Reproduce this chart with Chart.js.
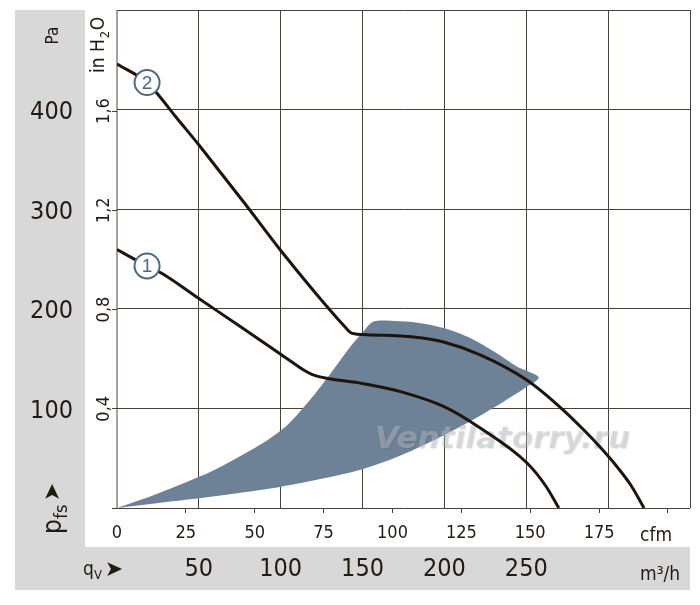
<!DOCTYPE html>
<html>
<head>
<meta charset="utf-8">
<script src="https://cdn.jsdelivr.net/npm/chart.js@4.4.1/dist/chart.umd.min.js"></script>
<style>
html,body{margin:0;padding:0;background:#ffffff;}
canvas{display:block;}
</style>
</head>
<body>
<canvas id="c" width="700" height="605"></canvas>
<script>
// ---------- data ----------
const curve1Flow = [0, 18.36, 27.54, 49.57, 75.28, 99.76, 110.77, 115.06, 119.34, 127.3, 149.9, 173.2, 199.8, 222.1, 250.6, 261.9, 269.9];
const curve1Pa   = [259.5, 243.0, 235.4, 210.8, 182.2, 154.6, 142.1, 137.6, 134.0, 130.5, 125.0, 116.8, 101.7, 80.0, 44.9, 22.1, 0];

const curve2Flow = [0, 18.36, 26.3, 35.5, 49.57, 63.0, 78.3, 99.76, 121.2, 139.6, 142.6, 145.7, 149.9, 181.2, 199.5, 222.2, 250.3, 269.9, 285.2, 295.6, 304.8, 314.0, 321.9];
const curve2Pa   = [445.8, 427.2, 412.7, 393.6, 365.5, 337.3, 305.2, 259.0, 215.9, 181.2, 176.2, 174.7, 174.2, 171.7, 166.7, 153.6, 128.5, 102.4, 78.3, 60.2, 42.7, 22.6, 0];

const shadeFlow = [0, 20.2, 44.7, 56.9, 71.0, 81.4, 90.6, 98.5, 104.7, 110.2, 115.7, 121.8, 129.1, 136.5, 142.6, 150.5, 156.7,
                   169.5, 183.6, 200.1, 216, 230.7, 244.8, 257.6,
                   249.9, 224.4, 199.9, 173.2, 149.9, 124.2, 100.2, 72.2, 44.7, 20.2, 0];
const shadePa   = [0, 11.5, 27.6, 36.1, 48.2, 57.7, 66.8, 75.8, 84.3, 93.9, 104.4, 116.5, 132.0, 148.6, 162.1, 177.2, 187.2,
                   187.8, 186.0, 180.4, 170.4, 156.6, 141.6, 131.2,
                   121.2, 95.1, 73.3, 52.7, 39.0, 29.1, 21.4, 14.6, 8.7, 4.0, 0];

const curveNames = ['1', '2'];

const m3hTicks  = [0, 50, 100, 150, 200, 250, 300, 350];
const m3hLabels = ['', '50', '100', '150', '200', '250', '', ''];
const cfmTicks  = [0, 25, 50, 75, 100, 125, 150, 175, 200];
const cfmLabels = ['0', '25', '50', '75', '100', '125', '150', '175', ''];
const paTicks   = [0, 100, 200, 300, 400, 500];
const paLabels  = ['', '100', '200', '300', '400', ''];
const inTicks   = [0, 0.4, 0.8, 1.2, 1.6];
const inLabels  = ['', '0,4', '0,8', '1,2', '1,6'];

const FLOW_MAX = 350;      // m³/h
const CFM_MAX = 208;       // cfm at right edge
const PA_MAX = 500;
const PA_PER_INH2O = 249.09;

// ---------- styles ----------
const NARROW = "'Liberation Sans Narrow','DejaVu Sans Condensed','Arial Narrow',sans-serif";
const REG = "'Liberation Sans',Arial,sans-serif";
const TEXT = '#231a12';
const GRID = '#4b4134';
const AXISGRAY = '#a7a198';
const PANEL = '#d8d8d8';
const SHADE = '#6e8297';
const CURVE = '#1f140c';
const BADGE = '#4f6882';

const toXY = (xs, ys) => xs.map((x, i) => ({x: x, y: ys[i]}));
const setTicks = vals => s => { s.ticks = vals.map(v => ({value: v})); };
const fixH = h => s => { s.height = h; s.paddingLeft = 0; s.paddingRight = 0; };
const fixW = w => s => { s.width = w; s.paddingTop = 0; s.paddingBottom = 0; };

const decor = {
  id: 'decor',
  beforeDraw(chart) {
    const c = chart.ctx;
    c.save();
    c.fillStyle = PANEL;
    c.fillRect(15, 10, 70, 580);
    c.fillRect(15, 547, 675, 43);
    c.restore();
  },
  afterDatasetDraw(chart, args) {
    if (args.index !== 2) return;
    const c = chart.ctx;
    c.save();
    c.beginPath();
    c.rect(chart.chartArea.left, chart.chartArea.top, chart.chartArea.width, chart.chartArea.height);
    c.clip();
    c.font = "bold italic 31px 'DejaVu Sans'";
    c.textAlign = 'left';
    c.textBaseline = 'alphabetic';
    c.shadowColor = 'rgba(0,0,0,0.18)';
    c.shadowOffsetX = 1; c.shadowOffsetY = 1; c.shadowBlur = 1;
    c.fillStyle = 'rgba(190,192,196,0.47)';
    c.fillText('Ventilatorry.ru', 375, 448);
    c.restore();
  },
  afterDraw(chart) {
    const c = chart.ctx;
    c.save();
    c.fillStyle = TEXT;
    // Pa
    c.save();
    c.translate(54, 35.5); c.rotate(-Math.PI / 2);
    c.font = '17px ' + NARROW; c.textAlign = 'center'; c.textBaseline = 'middle';
    c.fillText('Pa', 0, 0);
    c.restore();
    // in H2O
    c.save();
    c.translate(104, 73); c.rotate(-Math.PI / 2);
    c.textAlign = 'left'; c.textBaseline = 'alphabetic';
    c.font = '19px ' + NARROW;
    c.fillText('in H', 0, 0);
    let w = c.measureText('in H').width;
    c.font = '13px ' + NARROW;
    c.fillText('2', w + 1, 5);
    w += c.measureText('2').width + 1.5;
    c.font = '19px ' + NARROW;
    c.fillText('O', w, 0);
    c.restore();
    // p fs
    c.save();
    c.translate(61, 534); c.rotate(-Math.PI / 2);
    c.textAlign = 'left'; c.textBaseline = 'alphabetic';
    c.font = '26px ' + NARROW;
    c.fillText('p', 0, 0);
    const pw = c.measureText('p').width;
    c.font = '18px ' + NARROW;
    c.fillText('fs', pw + 0.5, 6);
    c.restore();
    // up arrow
    c.save();
    c.translate(53, 492); c.rotate(-Math.PI / 2);
    c.font = "22px 'DejaVu Sans'"; c.textAlign = 'center'; c.textBaseline = 'middle';
    c.fillText('➤', 0, 0);
    c.restore();
    // q V ->
    c.textAlign = 'left'; c.textBaseline = 'alphabetic';
    c.font = '19px ' + NARROW;
    c.fillText('q', 83, 574.5);
    c.font = '13px ' + NARROW;
    c.fillText('V', 94, 578.5);
    c.save();
    c.font = "22px 'DejaVu Sans'"; c.textAlign = 'center'; c.textBaseline = 'middle';
    c.fillText('➤', 114, 570);
    c.restore();
    // units
    c.font = '19px ' + NARROW;
    c.fillText('cfm', 640, 541);
    c.fillText('m³/h', 640, 580);
    // curve badges
    curveNames.forEach((name, i) => {
      const el = chart.getDatasetMeta(i).data[1];
      if (!el) return;
      c.beginPath();
      c.arc(el.x, el.y, 12.5, 0, Math.PI * 2);
      c.fillStyle = '#ffffff';
      c.fill();
      c.lineWidth = 2;
      c.strokeStyle = BADGE;
      c.stroke();
      c.fillStyle = BADGE;
      c.font = '19px ' + REG;
      c.textAlign = 'center'; c.textBaseline = 'middle';
      c.fillText(name, el.x, el.y + 1);
    });
    c.restore();
  }
};

new Chart(document.getElementById('c'), {
  type: 'line',
  data: {
    datasets: [
      { label: '1', data: toXY(curve1Flow, curve1Pa), xAxisID: 'x', yAxisID: 'y',
        borderColor: CURVE, borderWidth: 3, pointRadius: 0, fill: false, cubicInterpolationMode: 'monotone' },
      { label: '2', data: toXY(curve2Flow, curve2Pa), xAxisID: 'x', yAxisID: 'y',
        borderColor: CURVE, borderWidth: 3, pointRadius: 0, fill: false, cubicInterpolationMode: 'monotone' },
      { label: 'range', data: toXY(shadeFlow, shadePa), xAxisID: 'x', yAxisID: 'y',
        borderWidth: 0, borderColor: 'rgba(0,0,0,0)', backgroundColor: SHADE, pointRadius: 0,
        fill: 'shape', tension: 0.3 }
    ]
  },
  options: {
    responsive: false,
    animation: false,
    devicePixelRatio: 1,
    layout: { padding: { top: 10, right: 10, bottom: 15, left: 0 } },
    plugins: { legend: { display: false }, tooltip: { enabled: false } },
    scales: {
      x: {
        type: 'linear', position: 'bottom', weight: 1, min: 0, max: FLOW_MAX, z: 1,
        afterBuildTicks: setTicks(m3hTicks), afterFit: fixH(43),
        border: { display: false },
        grid: {
          drawTicks: false,
          color: ctx => (ctx.tick && ctx.tick.value === 0) ? AXISGRAY : GRID,
          lineWidth: ctx => (ctx.tick && ctx.tick.value === 0) ? 2 : 1
        },
        ticks: { autoSkip: false, minRotation: 0, maxRotation: 0, padding: 7, color: TEXT,
          font: { family: NARROW, size: 25 }, callback: (v, i) => m3hLabels[i] }
      },
      xcfm: {
        type: 'linear', position: 'bottom', weight: 0, min: 0, max: CFM_MAX,
        afterBuildTicks: setTicks(cfmTicks), afterFit: fixH(39),
        border: { display: false },
        grid: { drawOnChartArea: false, drawTicks: true, tickLength: 5,
          tickColor: ctx => (ctx.tick && ctx.tick.value === 0) ? 'rgba(0,0,0,0)' : GRID },
        ticks: { autoSkip: false, minRotation: 0, maxRotation: 0, padding: 10, color: TEXT,
          font: { family: NARROW, size: 18 }, callback: (v, i) => cfmLabels[i] }
      },
      y: {
        type: 'linear', position: 'left', weight: 1, min: 0, max: PA_MAX, z: 1,
        afterBuildTicks: setTicks(paTicks), afterFit: fixW(85),
        border: { display: false },
        grid: { drawTicks: false, color: GRID, lineWidth: 1 },
        ticks: { autoSkip: false, padding: 12, labelOffset: 3, color: TEXT,
          font: { family: NARROW, size: 25 }, callback: (v, i) => paLabels[i] }
      },
      yin: {
        type: 'linear', position: 'left', weight: 0, min: 0, max: PA_MAX / PA_PER_INH2O,
        afterBuildTicks: setTicks(inTicks), afterFit: fixW(32),
        border: { display: false },
        grid: { drawOnChartArea: false, drawTicks: true, tickLength: 5, tickColor: GRID },
        ticks: { autoSkip: false, minRotation: 90, maxRotation: 90, crossAlign: 'center', padding: -5,
          color: TEXT, font: { family: NARROW, size: 18 }, callback: (v, i) => inLabels[i] }
      }
    }
  },
  plugins: [decor]
});
</script>
</body>
</html>
